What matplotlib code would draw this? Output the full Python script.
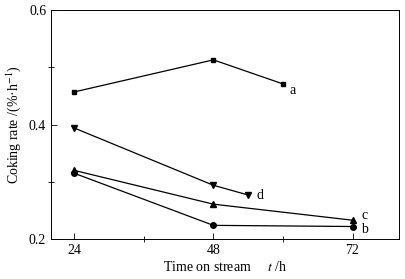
# Coking rate vs. time on stream

from matplotlib import pyplot as plt

# Data
time_a = [24, 48, 60]
rate_a = [0.457, 0.513, 0.471]
time_b = [24, 48, 72]
rate_b = [0.315, 0.224, 0.222]
time_c = [24, 48, 72]
rate_c = [0.320, 0.261, 0.233]
time_d = [24, 48, 54]
rate_d = [0.394, 0.294, 0.277]

x_ticks = [24, 48, 72]
y_ticks = [0.2, 0.4, 0.6]

plt.rcParams["font.family"] = "Liberation Serif"
plt.rcParams["font.size"] = 10
plt.rcParams["mathtext.fontset"] = "stix"

fig = plt.figure(figsize=(4.05, 2.79), dpi=100)
ax = fig.add_axes([0.126, 0.143, 0.859, 0.821])

line_kw = dict(color="black", linewidth=0.9)
ax.plot(time_a, rate_a, marker="s", markersize=3.5, **line_kw)
ax.plot(time_b, rate_b, marker="o", markersize=4, **line_kw)
ax.plot(time_c, rate_c, marker="^", markersize=4.5, **line_kw)
ax.plot(time_d, rate_d, marker="v", markersize=4.5, **line_kw)

# Series labels
ax.text(time_a[-1] + 1.2, rate_a[-1] - 0.012, "a", va="center", ha="left")
ax.text(time_b[-1] + 1.5, rate_b[-1] - 0.006, "b", va="center", ha="left")
ax.text(time_c[-1] + 1.5, rate_c[-1] + 0.008, "c", va="center", ha="left")
ax.text(time_d[-1] + 1.5, rate_d[-1], "d", va="center", ha="left")

ax.set_xlim(20, 80)
ax.set_ylim(0.2, 0.6)
ax.set_xticks(x_ticks)
ax.set_xticks([36, 60], minor=True)
ax.set_yticks(y_ticks)
ax.set_yticks([0.3, 0.5], minor=True)
ax.tick_params(direction="in", which="major", length=4, width=0.6)
ax.tick_params(direction="inout", which="minor", length=4, width=0.6)

for spine in ax.spines.values():
    spine.set_linewidth(0.7)

ax.set_xlabel("Time on stream     $t$ /h", labelpad=2)
ax.set_ylabel("Coking rate /(%·h$^{-1}$)", labelpad=4)

fig.savefig("out.png", dpi=100)
plt.close(fig)
